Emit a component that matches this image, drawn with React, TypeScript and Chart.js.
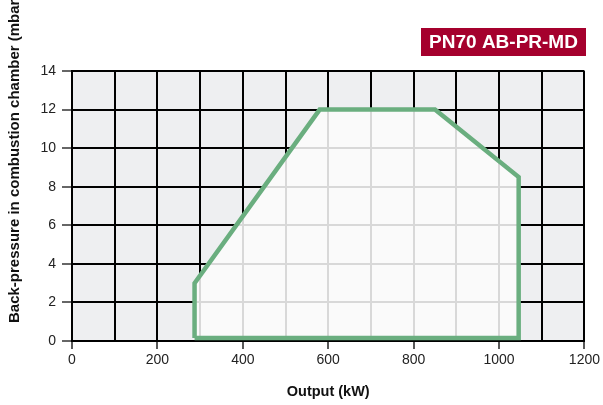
import React, { useEffect, useRef } from "react";
import { Chart, registerables } from "chart.js";

Chart.register(...registerables);

const outputKW = [287, 287, 580, 850, 1046, 1046, 287];
const backPressure = [0.15, 3, 12, 12, 8.5, 0.15, 0.15];
const badgeText = "PN70 AB-PR-MD";
const xTitle = "Output (kW)";
const yTitle = "Back-pressure in combustion chamber (mbar)";

const FONT = "'Liberation Sans', Arial, Helvetica, sans-serif";

export default function App() {
  const ref = useRef<HTMLCanvasElement | null>(null);
  useEffect(() => {
    document.body.style.margin = "0";
    const canvas = ref.current;
    if (!canvas) return;
    const bgPlugin = {
      id: "plotBg",
      beforeDraw(chart: any) {
        const { ctx, chartArea } = chart;
        ctx.save();
        ctx.fillStyle = "#eeeff1";
        ctx.fillRect(chartArea.left, chartArea.top, chartArea.right - chartArea.left, chartArea.bottom - chartArea.top);
        ctx.restore();
      },
      afterDraw(chart: any) {
        const { ctx } = chart;
        ctx.save();
        // badge
        ctx.fillStyle = "#a5002d";
        ctx.fillRect(421, 28, 165, 28);
        ctx.fillStyle = "#ffffff";
        ctx.font = `bold 19px ${FONT}`;
        ctx.textAlign = "center";
        ctx.textBaseline = "middle";
        ctx.fillText(badgeText, 503.5, 43);
        // y title
        ctx.translate(15, 323);
        ctx.rotate(-Math.PI / 2);
        ctx.fillStyle = "#111111";
        ctx.font = `bold 15px ${FONT}`;
        ctx.textAlign = "left";
        ctx.textBaseline = "middle";
        ctx.fillText(yTitle, 0, 0);
        ctx.restore();
      },
    };
    const chart = new Chart(canvas, {
      type: "line",
      data: {
        datasets: [
          {
            data: outputKW.map((x, i) => ({ x, y: backPressure[i] })),
            borderColor: "#6aae7f",
            borderWidth: 4.5,
            backgroundColor: "rgba(251,251,251,0.86)",
            fill: "shape",
            pointRadius: 0,
            tension: 0,
            borderJoinStyle: "miter",
          },
        ],
      },
      options: {
        responsive: false,
        animation: false,
        layout: { padding: { left: 0, top: 71, right: 17, bottom: 0 } },
        plugins: { legend: { display: false }, tooltip: { enabled: false }, filler: { propagate: false } },
        scales: {
          x: {
            type: "linear",
            min: 0,
            max: 1200,
            afterFit(scale: any) {
              scale.height = 64;
            },
            ticks: {
              stepSize: 100,
              autoSkip: false,
              maxRotation: 0,
              padding: 3,
              color: "#222222",
              font: { family: FONT, size: 14 },
              callback: (v: any) => (Number(v) % 200 === 0 ? String(v) : ""),
            },
            grid: {
              color: "#000000",
              lineWidth: 2,
              tickLength: 8,
              tickWidth: 1.5,
              tickColor: (c: any) => (c.tick && c.tick.value % 200 === 0 ? "#222222" : "rgba(0,0,0,0)"),
            },
            border: { color: "#000000", width: 2 },
            title: { display: true, text: xTitle, color: "#111111", font: { family: FONT, size: 14.5, weight: "bold" }, padding: { top: 12, bottom: 4 } },
          },
          y: {
            type: "linear",
            min: 0,
            max: 14,
            afterFit(scale: any) {
              scale.width = 72;
            },
            ticks: {
              stepSize: 2,
              padding: 6,
              color: "#222222",
              font: { family: FONT, size: 14 },
            },
            grid: {
              color: "#000000",
              lineWidth: 2,
              tickLength: 10,
              tickWidth: 1.5,
              tickColor: "#333333",
            },
            border: { color: "#000000", width: 2 },
          },
        },
      },
      plugins: [bgPlugin],
    } as any);
    return () => chart.destroy();
  }, []);
  return (
    <div style={{ width: 603, height: 405, background: "#ffffff" }}>
      <canvas ref={ref} width={603} height={405} style={{ display: "block" }} />
    </div>
  );
}
